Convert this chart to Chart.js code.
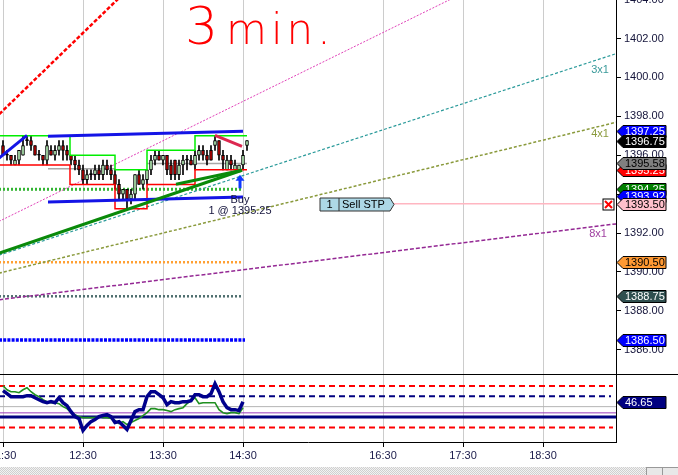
<!DOCTYPE html>
<html>
<head>
<meta charset="utf-8">
<script src="https://cdn.jsdelivr.net/npm/chart.js@4.4.1/dist/chart.umd.min.js"></script>
<style>
html, body { margin: 0; padding: 0; background: #fff; overflow: hidden; width: 678px; height: 475px; }
#wrap { position: absolute; left: -40px; top: -10px; width: 760px; height: 500px; }
#strip { position: absolute; left: 0; top: 467px; width: 678px; height: 8px;
  background: repeating-conic-gradient(#cfcfcf 0 25%, #f2f2f2 0 50%) 0 0 / 2px 2px; }
.btn { position: absolute; top: 467px; width: 15px; height: 8px; background: #e8e8e8; border: 1px solid #999; border-bottom: none; }
</style>
</head>
<body>
<div id="wrap"><canvas id="chart" width="760" height="500"></canvas></div>
<div id="strip"></div>
<div class="btn" style="left:646px"></div>
<div class="btn" style="left:662px"></div>
<script>
// 3 minute bars, index 0 = 11:30
const opens  = [1396.5,1396.0,1396.0,1395.5,1395.75,1396.0,1396.75,1396.75,1396.5,1396.0,1396.0,1395.75,1396.25,1396.0,1396.25,1396.5,1396.25,1396.0,1395.75,1395.5,1395.25,1394.75,1395.0,1395.0,1395.25,1395.0,1395.5,1395.25,1395.0,1394.5,1394.0,1394.25,1393.75,1394.0,1395.0,1394.5,1394.75,1395.25,1395.75,1396.0,1395.75,1396.0,1395.5,1395.75,1395.0,1395.5,1395.75,1395.75,1395.5,1396.0,1396.25,1396.0,1396.25,1396.5,1396.75,1396.0,1395.25,1395.75,1395.25,1395.25,1395.5,1396.5];
const highs  = [1396.75,1396.25,1396.0,1396.0,1396.25,1397.0,1397.0,1397.0,1396.5,1396.25,1396.0,1396.75,1396.5,1396.5,1396.75,1396.75,1396.5,1396.0,1396.0,1395.75,1395.5,1395.25,1395.25,1395.5,1395.5,1395.75,1395.75,1395.5,1395.25,1394.75,1394.25,1394.25,1394.25,1395.0,1395.25,1395.0,1395.25,1396.0,1396.25,1396.25,1396.0,1396.0,1395.75,1395.75,1395.75,1396.0,1396.0,1396.0,1396.25,1396.5,1396.5,1396.25,1396.5,1397.0,1396.75,1396.25,1396.0,1396.0,1395.75,1395.5,1396.25,1396.75];
const lows   = [1396.0,1395.75,1395.5,1395.5,1395.5,1396.0,1396.5,1396.25,1396.0,1395.75,1395.5,1395.5,1396.0,1395.75,1396.0,1395.75,1395.75,1395.5,1395.25,1395.0,1394.5,1394.5,1394.75,1394.75,1394.75,1394.75,1395.0,1394.75,1394.25,1393.75,1393.75,1393.25,1393.5,1393.75,1394.5,1394.25,1394.5,1395.0,1395.5,1395.75,1395.5,1395.0,1394.75,1394.75,1394.75,1395.0,1395.25,1395.5,1395.25,1395.75,1395.75,1395.5,1395.75,1396.25,1395.75,1395.25,1395.25,1395.25,1395.25,1395.25,1395.25,1396.25];
const closes = [1396.0,1396.0,1395.75,1395.75,1396.25,1396.5,1396.75,1396.5,1396.0,1396.0,1395.75,1396.5,1396.0,1396.25,1396.5,1396.25,1396.0,1395.75,1395.5,1395.25,1394.75,1395.0,1395.0,1395.25,1395.0,1395.5,1395.25,1395.0,1394.5,1394.0,1394.25,1393.75,1394.0,1395.0,1394.5,1394.75,1395.25,1395.75,1396.0,1395.75,1396.0,1395.25,1395.0,1395.0,1395.5,1395.75,1395.75,1395.5,1396.0,1396.25,1396.0,1395.75,1395.75,1396.75,1396.0,1395.75,1395.75,1395.5,1395.5,1395.5,1396.0,1396.75];

// lower pane (CCI style oscillator)
const cciFast = [154,125,96,96,96,96,106,106,86,67,48,38,48,38,86,38,10,-48,-96,-115,-230,-182,-144,-125,-96,-86,-77,-96,-154,-144,-182,-221,-134,-48,-29,-29,96,144,144,115,86,19,48,38,38,48,48,58,115,115,96,96,125,221,144,48,-10,-29,-29,-38,46.65];
const cciSlow = [202,163,144,144,134,163,182,144,115,96,67,48,38,38,29,0,-19,-58,-77,-96,-106,-106,-106,-106,-96,-106,-106,-115,-134,-163,-144,-173,-154,-134,-115,-86,-58,-19,-19,-29,-29,-38,-48,-29,-19,-10,29,58,86,29,38,38,38,38,-29,-58,-67,-58,-58,-67,-10];
const cciLevels = [200, 100, 0, -60, -100, -200];

// x axis
const tickIdx    = [0, 20, 40, 60, 95, 115, 135];
const tickLabels = ['11:30', '12:30', '13:30', '14:30', '16:30', '17:30', '18:30'];

// range channel (bar index breaks, highs, lows)
const rangeBreaks = [-1, 16.75, 28, 36, 48, 61];
const rangeHighs  = [1397.0, 1396.0, 1395.25, 1396.25, 1397.0];
const rangeLows   = [1395.5, 1394.5, 1393.25, 1394.5, 1395.25];
const midLines    = [[11.25, 28, 1395.3], [36, 61, 1395.58]];

// horizontal levels
const levelPrices = [1394.25, 1390.5, 1388.75, 1386.5];
const levelEnd = 60;

// drawn trend lines: [bar, price] pairs
const redTrend   = [[-2, 1397.9], [31, 1404.48]];
const pinkTrend  = [[-1, 1392.6], [115, 1404.33]];
const fan3x1     = [[-1, 1390.86], [154, 1401.27]];
const fan4x1     = [[-1, 1389.94], [154, 1397.73]];
const fan8x1     = [[-1, 1388.57], [154, 1392.49]];
const greenTrendA = [[-1, 1390.96], [59.75, 1395.23]];
const greenTrendB = [[43.25, 1394.51], [59.75, 1395.23]];
const blueUpper  = [[11.25, 1396.97], [60, 1397.23]];
const blueLower  = [[11.25, 1393.59], [60, 1393.85]];
const blueShort  = [[-1, 1395.85], [6, 1397.02]];
const crimsonTrend = [[53, 1397.02], [59.75, 1396.46]];

// orders / fills
const stopPrice = 1393.5;
const stopBox = [79.25, 96.75];
const stopLine = [97.5, 149.75];
const stopX = 151.25;
const buyBar = 59.25;
const buyPrice = 1395.25;
const fanLabels = ['3x1', '4x1', '8x1'];
const fanLabelAt = [[149.25, 1400.4], [149.25, 1397.07], [148.75, 1391.95]];

// price flags on the axis
const flagPrices = [1397.25, 1396.75, 1395.25, 1395.58, 1394.25, 1393.92, 1393.5, 1390.5, 1388.75, 1386.5];
const flagFill   = ['#0000ff', '#000000', '#ff0000', '#808080', '#008000', '#0000ff', '#ffc0cb', '#ff9933', '#2f4f4f', '#0000ff'];
const flagInk    = ['#fff', '#fff', '#fff', '#000', '#fff', '#fff', '#000', '#000', '#fff', '#fff'];
const cciFlag = 46.65;

const upFill = '#b4ecb4', downFill = '#b00000';

Chart.defaults.font.family = '"Liberation Sans", Arial, sans-serif';
Chart.defaults.font.size = 11;

function seg(points, color, width, dash, order, axis) {
  return {
    type: 'line',
    data: points.map(p => ({ x: p[0], y: p[1] })),
    borderColor: color, borderWidth: width, borderDash: dash || [],
    pointRadius: 0, fill: false, tension: 0,
    yAxisID: axis || 'y', order: order
  };
}

function stepPoints(breaks, vals) {
  const pts = [];
  vals.forEach((v, i) => { pts.push([breaks[i], v]); pts.push([breaks[i + 1], v]); });
  return pts;
}

const cciX = cciFast.map((_, i) => i);

const datasets = [
  seg([[-1, levelPrices[0]], [levelEnd, levelPrices[0]]], '#33b533', 3, [2, 2], 12),
  seg([[-1, levelPrices[1]], [levelEnd, levelPrices[1]]], '#ffa033', 2.5, [2, 2], 12),
  seg([[-1, levelPrices[2]], [levelEnd, levelPrices[2]]], '#4f6f6f', 2.5, [2, 2], 12),
  seg([[-1, levelPrices[3]], [levelEnd + 0.5, levelPrices[3]]], '#0000ff', 3.5, [3, 1.2], 12),
  seg(fan3x1, '#2a9a9a', 1.2, [3, 2], 11),
  seg(fan4x1, '#8a9a3c', 1.5, [3, 2], 11),
  seg(fan8x1, '#942894', 1.5, [4, 2], 11),
  seg(pinkTrend, '#e040b8', 1, [2, 1.5], 11),
  seg(redTrend, '#ff0000', 2.5, [4, 2], 11),
  seg([[stopLine[0], stopPrice], [stopLine[1], stopPrice]], '#ffb6c1', 1.5, [], 11),
  seg(midLines[0].slice(0, 2).map(b => [b, midLines[0][2]]), '#a8a8a8', 1.5, [], 10),
  seg(midLines[1].slice(0, 2).map(b => [b, midLines[1][2]]), '#a8a8a8', 1.5, [], 10),
  {
    type: 'bar', order: 8, grouped: false,
    data: highs.map((h, i) => ({ x: i, y: [lows[i], h] })),
    backgroundColor: '#000', barThickness: 1, borderWidth: 0
  },
  {
    type: 'bar', order: 7, grouped: false,
    data: opens.map((o, i) => ({ x: i, y: [o, closes[i]] })),
    backgroundColor: opens.map((o, i) => closes[i] > o ? upFill : closes[i] < o ? downFill : '#000'),
    borderColor: '#000', borderWidth: 1, borderSkipped: false, barThickness: 3, minBarLength: 1
  },
  seg(stepPoints(rangeBreaks, rangeHighs), '#00ee00', 1.5, [], 6),
  seg(stepPoints(rangeBreaks, rangeLows), '#ff0000', 1.5, [], 6),
  seg(blueUpper, '#1414e6', 3, [], 4),
  seg(blueLower, '#1414e6', 3, [], 4),
  seg(blueShort, '#1414e6', 3, [], 4),
  seg(greenTrendA, '#0a8a0a', 3, [], 3),
  seg(greenTrendB, '#0a8a0a', 3, [], 3),
  seg(crimsonTrend, '#dc2850', 3, [], 3),
  // lower pane
  seg([[-1, cciLevels[0]], [152.5, cciLevels[0]]], '#ff0000', 2, [6, 4], 5, 'y2'),
  seg([[-1, cciLevels[1]], [152, cciLevels[1]]], '#000080', 2, [6, 4], 5, 'y2'),
  seg([[-1, cciLevels[2]], [154, cciLevels[2]]], '#b4b4b4', 1, [], 5, 'y2'),
  seg([[-1, cciLevels[3]], [154, cciLevels[3]]], '#9a3aba', 1, [], 5, 'y2'),
  seg([[-1, cciLevels[4]], [154, cciLevels[4]]], '#000080', 3, [], 5, 'y2'),
  seg([[-1, cciLevels[5]], [152.5, cciLevels[5]]], '#ff0000', 2, [6, 4], 5, 'y2'),
  seg(cciSlow.map((v, i) => [cciX[i], v]), '#1f8f1f', 1.6, [], 2, 'y2'),
  seg(cciFast.map((v, i) => [cciX[i], v]), '#00008c', 3.5, [], 1, 'y2')
];

function flag(ctx, x, y, fill, ink, text) {
  ctx.beginPath();
  ctx.moveTo(x, y);
  ctx.lineTo(x + 6, y - 6);
  ctx.lineTo(x + 49, y - 6);
  ctx.lineTo(x + 49, y + 6);
  ctx.lineTo(x + 6, y + 6);
  ctx.closePath();
  ctx.fillStyle = fill; ctx.fill();
  ctx.strokeStyle = '#000'; ctx.lineWidth = 1; ctx.stroke();
  ctx.fillStyle = ink;
  ctx.textAlign = 'left'; ctx.textBaseline = 'middle';
  ctx.fillText(text, x + 8, y + 0.5);
}

const overlay = {
  id: 'overlay',
  afterDraw(chart) {
    const { ctx, chartArea: area, scales: { x, y, y2 } } = chart;
    const X = v => x.getPixelForValue(v), Y = v => y.getPixelForValue(v);
    ctx.save();

    // pane divider
    const dy = Math.round(y2.top) + 0.5;
    ctx.strokeStyle = '#000'; ctx.lineWidth = 1;
    ctx.beginPath(); ctx.moveTo(area.left, dy); ctx.lineTo(chart.width, dy); ctx.stroke();

    // handwritten note
    ctx.fillStyle = '#ff0000';
    ctx.textAlign = 'left'; ctx.textBaseline = 'alphabetic';
    ctx.font = '200 52px "DejaVu Sans"';
    ctx.fillText('3', X(45.5), Y(1401.73));
    ctx.font = '200 42px "DejaVu Sans"';
    ctx.letterSpacing = '4px';
    ctx.fillText('min.', X(55.75), Y(1401.73));
    ctx.letterSpacing = '0px';
    ctx.font = '11px "Liberation Sans", Arial, sans-serif';

    // fan labels
    const fanInk = ['#3a9a9a', '#8a9a3c', '#a040a0'];
    ctx.textAlign = 'center'; ctx.textBaseline = 'middle';
    fanLabels.forEach((t, i) => {
      ctx.fillStyle = fanInk[i];
      ctx.fillText(t, X(fanLabelAt[i][0]), Y(fanLabelAt[i][1]));
    });

    // buy marker
    const bx = X(buyBar), tip = Y(buyPrice - 0.25), base = Y(buyPrice - 0.95);
    ctx.fillStyle = '#1038ff';
    ctx.fillRect(bx - 1.5, tip + 5, 3, base - tip - 5);
    ctx.beginPath(); ctx.moveTo(bx, tip); ctx.lineTo(bx + 4.5, tip + 6); ctx.lineTo(bx - 4.5, tip + 6); ctx.closePath(); ctx.fill();
    ctx.fillStyle = '#14143c';
    ctx.fillText('Buy', bx, Y(buyPrice - 1.56));
    ctx.fillText('1 @ ' + buyPrice.toFixed(2), bx, Y(buyPrice - 2.12));

    // stop order tag
    const l = X(stopBox[0]), r = X(stopBox[1]), cy = Math.round(Y(stopPrice)) + 0.5;
    ctx.beginPath();
    ctx.moveTo(l, cy - 6.5); ctx.lineTo(r, cy - 6.5); ctx.lineTo(r + 4, cy); ctx.lineTo(r, cy + 6.5); ctx.lineTo(l, cy + 6.5);
    ctx.closePath();
    ctx.fillStyle = '#add8e6'; ctx.fill();
    ctx.strokeStyle = '#333'; ctx.lineWidth = 1; ctx.stroke();
    ctx.beginPath(); ctx.moveTo(l + 19, cy - 6.5); ctx.lineTo(l + 19, cy + 6.5); ctx.stroke();
    ctx.fillStyle = '#000';
    ctx.fillText('1', l + 9.5, cy + 0.5);
    ctx.textAlign = 'left';
    ctx.fillText('Sell STP', l + 22, cy + 0.5);

    // cancel box
    const sx = Math.round(X(stopX)) + 0.5;
    ctx.fillStyle = '#fff'; ctx.fillRect(sx - 5.5, cy - 5.5, 11, 11);
    ctx.strokeStyle = '#000'; ctx.strokeRect(sx - 5.5, cy - 5.5, 11, 11);
    ctx.strokeStyle = '#ff0000'; ctx.lineWidth = 2;
    ctx.beginPath();
    ctx.moveTo(sx - 3.5, cy - 3.5); ctx.lineTo(sx + 3.5, cy + 3.5);
    ctx.moveTo(sx + 3.5, cy - 3.5); ctx.lineTo(sx - 3.5, cy + 3.5);
    ctx.stroke();

    // axis flags
    const fx = area.right + 1;
    flagPrices.forEach((p, i) => flag(ctx, fx, Math.round(Y(p)) + 0.5, flagFill[i], flagInk[i], p.toFixed(2)));
    flag(ctx, fx, Math.round(y2.getPixelForValue(cciFlag)) + 0.5, '#000080', '#fff', cciFlag.toFixed(2));
    ctx.restore();
  }
};

new Chart(document.getElementById('chart'), {
  type: 'bar',
  data: { datasets: datasets },
  options: {
    responsive: false,
    animation: false,
    events: [],
    layout: { padding: { left: 40, top: 7.65, right: 42, bottom: 26 } },
    plugins: { legend: { display: false }, tooltip: { enabled: false } },
    scales: {
      x: {
        type: 'linear', min: -0.75, max: 153.25, offset: false,
        afterBuildTicks: s => { s.ticks = tickIdx.map(v => ({ value: v })); },
        afterFit: s => { s.height = 22; },
        ticks: { autoSkip: false, maxRotation: 0, color: '#1a1a4a', padding: 2,
                 callback: v => tickLabels[tickIdx.indexOf(v)] },
        grid: { offset: false, color: '#cccccc', tickColor: '#000', tickLength: 5 },
        border: { color: '#000' }
      },
      y: {
        type: 'linear', position: 'right', stack: 'pane', stackWeight: 376.35,
        min: 1384.74, max: 1404.0,
        afterFit: s => { s.width = 62; },
        ticks: { stepSize: 2, includeBounds: false, color: '#14143a', padding: 3,
                 callback: v => v.toFixed(2) },
        grid: { drawOnChartArea: false, color: '#000', tickLength: 5 },
        border: { color: '#000' }
      },
      y2: {
        type: 'linear', position: 'right', stack: 'pane', stackWeight: 68,
        min: -341, max: 312,
        afterFit: s => { s.width = 62; },
        ticks: { display: false },
        grid: { drawOnChartArea: false, drawTicks: false },
        border: { color: '#000' }
      }
    }
  },
  plugins: [overlay]
});
</script>
</body>
</html>
